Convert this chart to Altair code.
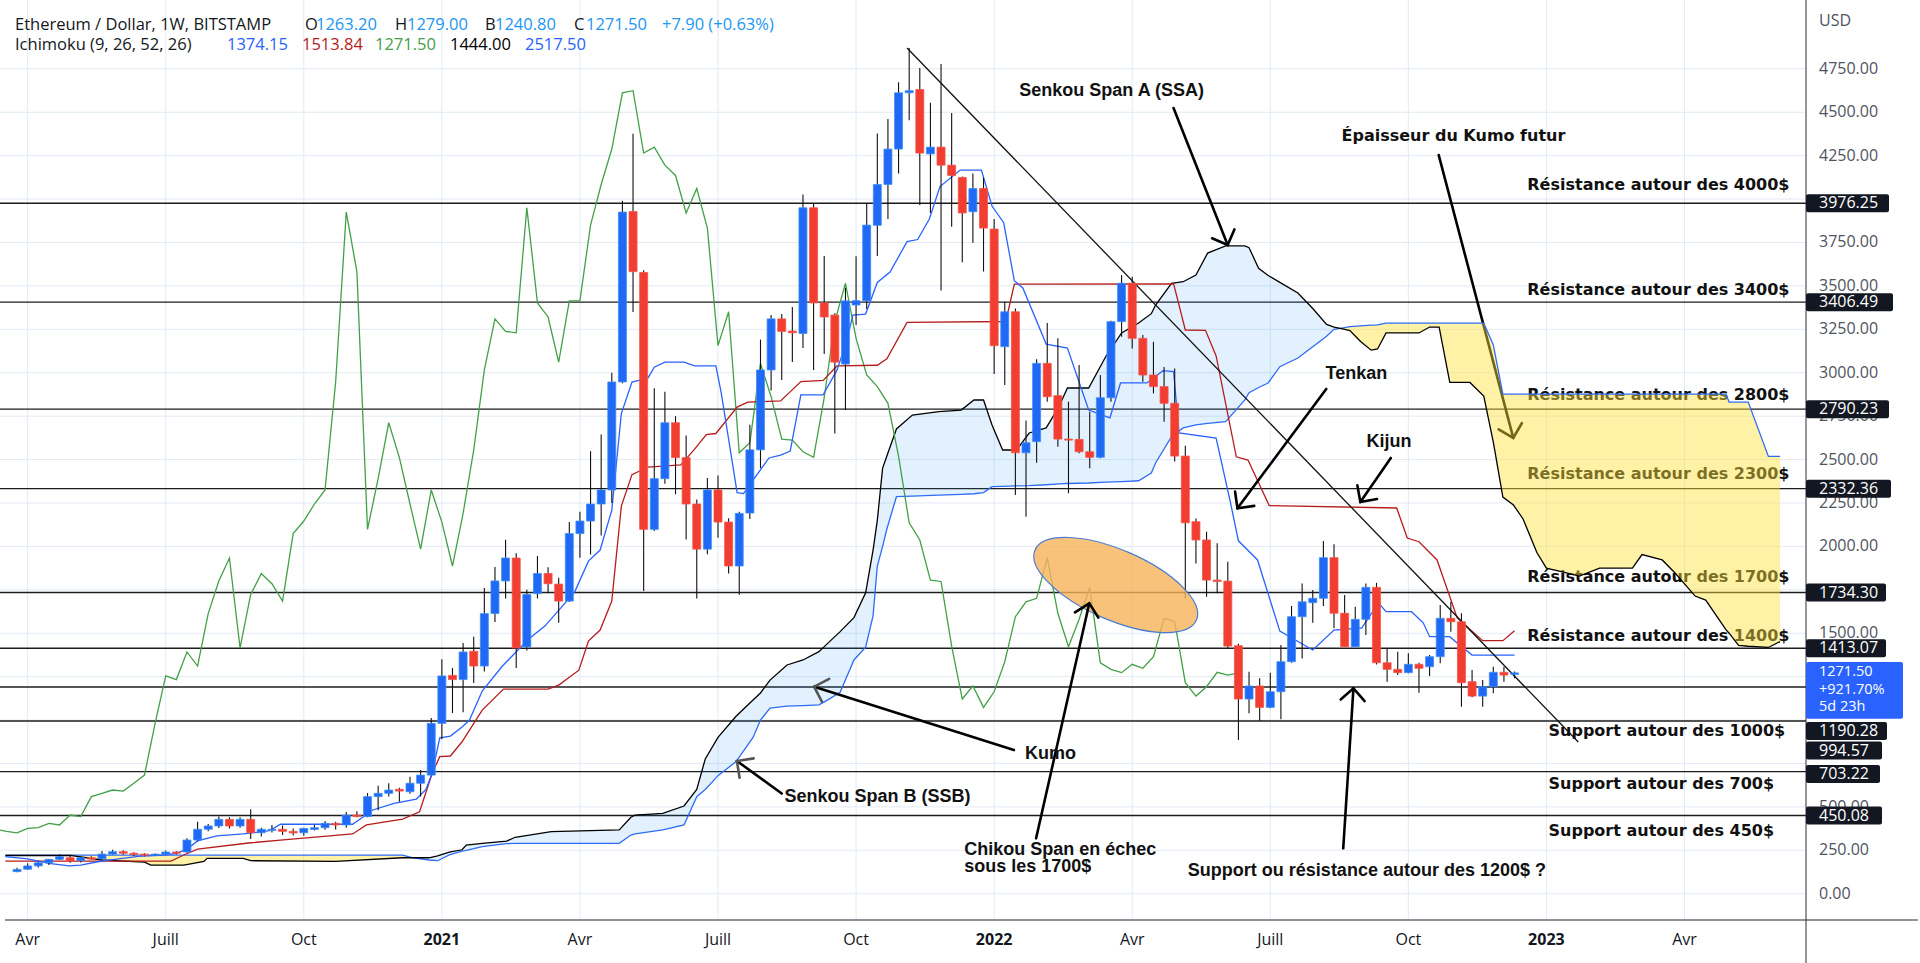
import altair as alt
import pandas as pd

# ---------------- data (weekly ETH/USD candles, first bar = week of 2020-03-30) ----------------
opens = [127, 141, 160, 178, 198, 207, 190, 207, 201, 228,
         242, 233, 228, 222, 227, 240, 240, 309, 371, 390,
         428, 390, 428, 351, 364, 371, 359, 351, 370, 380,
         405, 396, 453, 444, 559, 578, 601, 587, 636, 683,
         981, 1257, 1233, 1396, 1311, 1613, 1801, 1933, 1421, 1728,
         1844, 1783, 1685, 2074, 2146, 2244, 2325, 2947, 3928, 3577,
         2098, 2390, 2712, 2511, 2244, 1984, 2325, 2140, 1887, 2192,
         2556, 3016, 3310, 3240, 3226, 3950, 3402, 3332, 3050, 3390,
         3414, 3849, 4084, 4288, 4612, 4631, 4260, 4299, 4195, 4124,
         3927, 4061, 3827, 3150, 3351, 2539, 2603, 3054, 2868, 2618,
         2616, 2545, 2513, 2856, 3294, 3515, 3198, 2987, 2920, 2824,
         2520, 2142, 2037, 1806, 1800, 1428, 1121, 1196, 1073, 1163,
         1336, 1595, 1676, 1701, 1935, 1615, 1422, 1580, 1764, 1330,
         1292, 1273, 1321, 1307, 1365, 1586, 1566, 1221, 1138, 1192,
         1275, 1263.2]
highs = [150, 175, 186, 200, 227, 217, 215, 216, 246, 253,
         250, 239, 233, 232, 249, 246, 319, 415, 402, 444,
         440, 440, 486, 380, 395, 393, 375, 380, 395, 418,
         415, 470, 475, 580, 622, 636, 610, 674, 712, 1012,
         1350, 1300, 1444, 1480, 1760, 1882, 2038, 1960, 1750, 1945,
         1880, 1820, 2140, 2200, 2548, 2644, 3000, 3990, 4376, 3590,
         2911, 2890, 2750, 2638, 2270, 2394, 2408, 2162, 2200, 2700,
         3191, 3332, 3338, 3378, 4026, 3973, 3672, 3343, 3489, 3670,
         3978, 4378, 4461, 4672, 4870, 4755, 4554, 4778, 4496, 4130,
         4147, 4124, 3885, 3409, 3370, 2725, 3077, 3286, 3198, 2833,
         3044, 2776, 2987, 3300, 3563, 3553, 3217, 3178, 3033, 3025,
         2580, 2160, 2085, 2018, 1912, 1440, 1278, 1240, 1273, 1432,
         1657, 1787, 1749, 2031, 2012, 1720, 1653, 1787, 1790, 1413,
         1394, 1384, 1330, 1374, 1662, 1681, 1615, 1288, 1230, 1307,
         1307, 1279]
lows = [124, 138, 151, 165, 193, 178, 180, 196, 195, 225,
        225, 217, 215, 218, 226, 226, 236, 300, 360, 378,
        375, 380, 315, 330, 352, 338, 335, 334, 364, 368,
        370, 380, 440, 440, 480, 560, 530, 575, 560, 680,
        890, 1040, 1045, 1213, 1280, 1565, 1700, 1300, 1400, 1700,
        1730, 1560, 1680, 1935, 1953, 2062, 2250, 2940, 3350, 1743,
        2089, 2360, 2300, 2039, 1700, 1955, 2050, 1844, 1722, 2158,
        2451, 2897, 2958, 3062, 3143, 3016, 3108, 2650, 2785, 3275,
        3367, 3672, 3885, 4147, 4454, 3966, 3920, 3473, 3840, 3636,
        3748, 3583, 2993, 2929, 2296, 2171, 2482, 2833, 2574, 2306,
        2536, 2450, 2507, 2833, 3207, 3140, 2948, 2881, 2718, 2489,
        1701, 1902, 1710, 1730, 1413, 885, 1039, 996, 1068, 1004,
        1330, 1355, 1560, 1657, 1528, 1420, 1420, 1490, 1320, 1221,
        1259, 1269, 1157, 1253, 1327, 1509, 1077, 1131, 1077, 1154,
        1221, 1240.8]
closes = [140, 160, 178, 198, 213, 188, 207, 199, 228, 242,
          233, 226, 222, 228, 240, 233, 309, 371, 390, 428,
          390, 428, 351, 371, 371, 359, 350, 376, 380, 405,
          396, 453, 444, 559, 578, 597, 591, 636, 683, 981,
          1254, 1233, 1392, 1311, 1613, 1801, 1933, 1415, 1723, 1844,
          1785, 1685, 2074, 2146, 2244, 2325, 2947, 3925, 3582, 2098,
          2390, 2712, 2511, 2244, 1984, 2325, 2140, 1887, 2190, 2556,
          3016, 3310, 3238, 3230, 3950, 3402, 3321, 3061, 3414, 3415,
          3850, 4084, 4288, 4612, 4624, 4265, 4299, 4195, 4136, 3920,
          4061, 3833, 3156, 3351, 2539, 2597, 3054, 2862, 2618, 2612,
          2545, 2513, 2856, 3294, 3515, 3198, 2987, 2920, 2824, 2520,
          2136, 2037, 1806, 1798, 1426, 1121, 1196, 1073, 1163, 1336,
          1595, 1681, 1701, 1935, 1615, 1422, 1580, 1764, 1330, 1292,
          1273, 1321, 1298, 1365, 1586, 1566, 1215, 1138, 1192, 1275,
          1259, 1271.5]

# Ichimoku lines: (week index, price)
tenkan = [(-1.1, 213), (1, 200), (3, 175), (4.9, 160), (6, 165), (7.6, 184), (9, 196), (11.4, 215),
          (13.9, 223), (15, 232), (16, 257), (17, 304), (18.8, 333), (21.3, 344), (23.8, 363),
          (24.8, 400), (31.6, 400), (33.5, 482), (35.5, 520), (37.6, 545), (38.5, 600), (39.1, 695),
          (39.8, 897), (40.8, 908), (41.9, 960), (42.6, 1000), (43.8, 1167), (45.7, 1311), (48.2, 1468),
          (49.7, 1541), (52.5, 1737), (53.8, 1915), (54.9, 1979), (56, 2209), (56.9, 2765), (57.9, 2946),
          (59.4, 2969), (60, 3032), (61, 3061), (62.8, 3061), (63.8, 3040), (65.8, 3040), (66.3, 2886),
          (67.8, 2309), (68.4, 2304), (69.3, 2382), (70.8, 2509), (71.9, 2526), (72.8, 2549), (73.8, 2873),
          (75.9, 2873), (77.2, 3015), (78.1, 3179), (78.7, 3332), (79.9, 3338), (81, 3520), (82.2, 3580),
          (83.8, 3755), (84.8, 3767), (85.9, 3885), (86.9, 4072), (88.8, 4167), (90.8, 4167), (91.8, 3960),
          (92.9, 3864), (93.9, 3530), (94.7, 3488), (96.9, 3165), (98.9, 3142), (100.9, 2785), (102.9, 2740),
          (103.9, 2941), (106.4, 2941), (107.9, 3012), (108.9, 3006), (109.4, 2653), (112.9, 2624),
          (114.2, 2267), (115, 2032), (116.8, 1922), (118.9, 1512), (122, 1403), (124, 1518), (126.6, 1530),
          (128.2, 1674), (128.9, 1624), (131.3, 1624), (132.4, 1560), (133, 1480), (134.9, 1480),
          (135.6, 1444), (137, 1374), (141, 1374)]
kijun = [(-1.1, 188), (14.5, 188), (15.7, 223), (17, 257), (21.8, 292), (24.8, 309), (31.6, 344),
         (32.9, 396), (36.3, 430), (37.9, 472), (39.1, 695), (39.8, 789), (40.8, 793), (41.9, 875),
         (43.8, 1057), (45.8, 1178), (50, 1178), (51, 1201), (52.9, 1287), (53.8, 1455), (54.9, 1518),
         (56, 1685), (56.9, 2232), (57.9, 2413), (59.4, 2457), (62.5, 2469), (63.8, 2560), (64.9, 2644),
         (65.8, 2650), (67.8, 2802), (68.8, 2831), (71.9, 2838), (73.8, 2949), (75.9, 2956), (77.2, 3039),
         (81, 3043), (81.9, 3080), (83.8, 3290), (93.1, 3295), (93.9, 3510), (108.9, 3512), (110, 3246),
         (111.9, 3244), (112.9, 3097), (114.8, 2516), (115.9, 2497), (117.9, 2235), (129.9, 2221),
         (130.9, 2048), (132, 2027), (133.7, 1922), (135.6, 1588), (138, 1457), (139.9, 1457), (141, 1514)]
# (week index, Senkou Span A, Senkou Span B)
kumo = [(-1.1, 220, 222), (5, 221, 222), (8, 194, 222), (12, 182, 222), (12.6, 165, 222), (15.7, 165, 222),
        (17.6, 186, 222), (17.9, 204, 222), (21.3, 204, 222), (22, 190, 222), (30, 186, 222),
        (36.3, 207, 222), (37.3, 207, 207), (38.8, 207, 194), (39.6, 218, 190), (40.7, 240, 223),
        (41.9, 253, 245), (42.3, 280, 250), (43.8, 290, 271), (46.1, 303, 288), (46.9, 325, 290),
        (50.3, 357, 290), (56.7, 367, 290), (57.8, 440, 338), (58.2, 453, 345), (60.8, 463, 367),
        (62.8, 505, 396), (64, 600, 559), (64.8, 776, 600), (66, 900, 680), (67.7, 1022, 761),
        (69.3, 1115, 900), (70, 1156, 1000), (70.9, 1230, 1069), (72.5, 1317, 1080), (74, 1346, 1083),
        (75.5, 1394, 1087), (76.3, 1440, 1115), (77.5, 1509, 1160), (78.8, 1590, 1346), (79.9, 1733, 1420),
        (80.6, 1979, 1600), (81, 2150, 1887), (81.5, 2451, 2000), (81.9, 2520, 2100), (82.8, 2676, 2286),
        (84.3, 2756, 2290), (86.8, 2776, 2295), (88.9, 2785, 2300), (90.1, 2843, 2303), (91, 2843, 2310),
        (91.8, 2699, 2344), (92.8, 2555, 2345), (94.1, 2555, 2348), (95.3, 2653, 2350), (96.9, 2682, 2355),
        (98.1, 2804, 2360), (98.9, 2912, 2362), (100.9, 2912, 2365), (102.5, 3092, 2370), (104, 3229, 2373),
        (105.6, 3286, 2378), (106.8, 3340, 2422), (107.2, 3390, 2480), (108.7, 3515, 2632),
        (109.8, 3524, 2682), (111, 3563, 2700), (112.1, 3689, 2708), (113.8, 3730, 2718), (115.6, 3730, 2843),
        (116, 3720, 2885), (116.9, 3601, 2915), (117.8, 3560, 2941), (118.9, 3520, 3035), (120.6, 3459, 3085),
        (122, 3370, 3150), (123.3, 3278, 3210), (124, 3262, 3250), (124.6, 3255, 3255), (125.5, 3243, 3265),
        (126.5, 3180, 3270), (127.5, 3130, 3274), (128.1, 3137, 3276), (128.9, 3229, 3286), (132, 3229, 3286),
        (133, 3263, 3286), (133.9, 3263, 3286), (134.9, 2944, 3286), (136.8, 2944, 3286), (138.1, 2866, 3286),
        (139, 2600, 3160), (139.9, 2284, 2877), (140.9, 2238, 2877), (141.8, 2158, 2877), (143.1, 1965, 2877),
        (144, 1875, 2877), (145.6, 1852, 2877), (147.1, 1829, 2877), (149, 1875, 2877), (152.1, 1875, 2877),
        (153, 1953, 2877), (154.9, 1922, 2877), (156.2, 1841, 2877), (158, 1714, 2877), (159, 1691, 2877),
        (160.9, 1521, 2877), (161.2, 1500, 2831), (162.1, 1430, 2831), (163, 1425, 2831), (164.9, 1418, 2518),
        (166, 1452, 2518)]
kumo_crossings = [37.3, 124.6]
chikou_shift = 26

levels = [3976.25, 3406.49, 2790.23, 2332.36, 1734.30, 1413.07, 1190.28, 994.57, 703.22, 450.08]
level_tags = ["3976.25", "3406.49", "2790.23", "2332.36", "1734.30", "1413.07", "1190.28", "994.57", "703.22", "450.08"]
level_tag_at = [3976.25, 3406.49, 2790.23, 2332.36, 1734.30, 1413.07, 937, 824.6, 689, 450.08]
level_tag_right = [1889, 1893, 1889, 1891, 1886, 1886, 1887, 1882, 1880, 1882]
trend = [(83.8, 4870, 147.0, 873.5)]

tick_weeks = [1, 14, 27, 40, 53, 66, 79, 92, 105, 118, 131, 144, 157]
tick_labels = ["Avr", "Juill", "Oct", "2021", "Avr", "Juill", "Oct", "2022", "Avr", "Juill", "Oct", "2023", "Avr"]
year_labels = ["2021", "2022", "2023"]
price_ticks = list(range(0, 5000, 250))
# price scale labels that stay visible (the others sit fully under the price tags)
price_labels = [0, 250, 500, 1500, 2000, 2250, 2500, 2750, 3000, 3250, 3500, 3750, 4250, 4500, 4750]

under_notes = [("Épaisseur du Kumo futur", 124.71, 4363),
               ("Résistance autour des 4000$", 142.2, 4082),
               ("Résistance autour des 3400$", 142.2, 3478.6),
               ("Résistance autour des 2800$", 142.2, 2871.7),
               ("Résistance autour des 2300$", 142.2, 2416.8),
               ("Résistance autour des 1700$", 142.2, 1823.7),
               ("Résistance autour des 1400$", 142.2, 1484),
               ("Support autour des 1000$", 144.2, 936.9),
               ("Support autour des 700$", 144.2, 631.7),
               ("Support autour des 450$", 144.2, 361)]
notes = [("Senkou Span A (SSA)", 94.37, 4622),
         ("Tenkan", 123.2, 2995.5),
         ("Kijun", 127.05, 2601),
         ("Kumo", 94.9, 804),
         ("Senkou Span B (SSB)", 72.25, 556.8),
         ("Chikou Span en échec", 89.18, 251.6),
         ("sous les 1700$", 89.18, 155.5),
         ("Support ou résistance autour des 1200$ ?", 110.24, 133)]
# arrows: tail week, tail price, tip week, tip price, head angle, head colour, drawn under kumo
arrows = [(108.89, 4524.4, 113.99, 3735.5, 68.3, "#000000", False),
          (133.86, 4253, 140.88, 2624.7, 75.2, "#000000", True),
          (123.27, 2906.3, 114.91, 2219.3, 126.8, "#000000", False),
          (129.35, 2509, 126.48, 2255.5, 124.8, "#000000", False),
          (93.86, 827.5, 75.05, 1192, 197.5, "#555555", False),
          (72.0, 577, 67.78, 764, 216, "#555555", False),
          (95.95, 319, 100.96, 1672.2, 282.8, "#000000", False),
          (124.87, 261.4, 125.83, 1182.8, 273.7, "#000000", False)]
ellipse = [(103.45, 1777.6)]

legend_rows = [(15, 25, "Ethereum / Dollar, 1W, BITSTAMP", "#131722"),
               (305, 25, "O", "#131722"), (316, 25, "1263.20", "#2196f3"),
               (395, 25, "H", "#131722"), (407, 25, "1279.00", "#2196f3"),
               (485, 25, "B", "#131722"), (495, 25, "1240.80", "#2196f3"),
               (574, 25, "C", "#131722"), (586, 25, "1271.50", "#2196f3"),
               (662, 25, "+7.90 (+0.63%)", "#2196f3"),
               (15, 45, "Ichimoku (9, 26, 52, 26)", "#131722"),
               (227, 45, "1374.15", "#2962ff"), (302, 45, "1513.84", "#b71c1c"),
               (375, 45, "1271.50", "#43a047"), (450, 45, "1444.00", "#000000"),
               (525, 45, "2517.50", "#2962ff")]
last_tag = ["1271.50", "+921.70%", "5d 23h"]
last_tag_at = [1275, 1175, 1075]

# ---------------- styling / layout ----------------
W, H = 1806, 920
X_MIN, X_MAX = -1.133, 167.97
Y_MIN, Y_MAX = -151.4, 5146.3
BLUE, BLUE_EDGE = "#2069f5", "#3d8ff7"
RED, RED_EDGE = "#f23d31", "#f4544a"
GRID = "#e2eaf5"
TAG_HALF = 9 / 0.17366  # half a price tag (9 px) in price units

xs = alt.Scale(domain=[X_MIN, X_MAX], nice=False, zero=False)
ys = alt.Scale(domain=[Y_MIN, Y_MAX], nice=False, zero=False)


def qx(f):
    return alt.X(f, type="quantitative", scale=xs, axis=None, title=None)


def qy(f):
    return alt.Y(f, type="quantitative", scale=ys, axis=None, title=None)


def px(f):
    return alt.X(f, type="quantitative", scale=None, axis=None, title=None)


def py(f):
    return alt.Y(f, type="quantitative", scale=None, axis=None, title=None)


# ---------------- tables ----------------
n = len(closes)
cdf = pd.DataFrame({"w": list(range(n)), "o": opens, "h": highs, "l": lows, "c": closes})
cdf["dir"] = ["up" if c >= o else "down" for o, c in zip(opens, closes)]
chik = pd.DataFrame({"w": [i - chikou_shift for i in range(n)], "p": closes})
tdf = pd.DataFrame(tenkan, columns=["w", "p"])
kdf = pd.DataFrame(kijun, columns=["w", "p"])
kumo_df = pd.DataFrame(kumo, columns=["w", "ssa", "ssb"])
bounds = [(-1e9, kumo_crossings[0]), (kumo_crossings[0], kumo_crossings[1]), (kumo_crossings[1], 1e9)]
seg_rows = []
for w, a, b in kumo:
    for s, (lo, hi) in enumerate(bounds):
        if lo <= w <= hi:
            seg_rows.append({"w": w, "ssa": a, "ssb": b, "seg": s})
seg_df = pd.DataFrame(seg_rows)
arr_df = pd.DataFrame(arrows, columns=["w1", "p1", "w2", "p2", "ang", "col", "under"])
trend_df = pd.DataFrame(trend, columns=["w1", "p1", "w2", "p2"])
tags = pd.DataFrame({"label": level_tags, "at": level_tag_at, "x2": level_tag_right})
tags["x1"] = 1806
tags["tx"] = 1819
tags["top"] = tags["at"] + TAG_HALF
tags["bot"] = tags["at"] - TAG_HALF
last_df = pd.DataFrame({"label": last_tag, "at": last_tag_at})
last_df["tx"] = 1819
last_box = pd.DataFrame({"x1": [1806], "x2": [1903], "top": [1334.6], "bot": [1008.0]})
leg_df = pd.DataFrame(legend_rows, columns=["px", "py", "t", "col"])
xtick_df = pd.DataFrame({"w": tick_weeks, "t": tick_labels})
xtick_df["year"] = xtick_df["t"].isin(year_labels)
ygrid_df = pd.DataFrame({"p": price_ticks})
ylab_df = pd.DataFrame({"p": price_labels, "t": [f"{v:.2f}" for v in price_labels]})

# ---------------- layers ----------------
grid_v = alt.Chart(xtick_df).mark_rule(color=GRID, strokeWidth=1).encode(x=qx("w"))
grid_h = alt.Chart(ygrid_df).mark_rule(color=GRID, strokeWidth=1).encode(y=qy("p"))
xlab_n = alt.Chart(xtick_df[~xtick_df["year"]]).mark_text(
    align="center", baseline="middle", font="Open Sans", fontSize=16, color="#131722").encode(
    x=qx("w"), y=alt.value(940), text="t:N")
xlab_b = alt.Chart(xtick_df[xtick_df["year"]]).mark_text(
    align="center", baseline="middle", font="Open Sans", fontSize=16, fontWeight="bold", color="#131722").encode(
    x=qx("w"), y=alt.value(940), text="t:N")
ylab = alt.Chart(ylab_df).mark_text(
    align="left", baseline="middle", dx=13, font="Open Sans", fontSize=16, color="#50535e").encode(
    x=alt.value(W), y=qy("p"), text="t:N")
bottom = alt.Chart(pd.DataFrame({"a": [X_MIN], "b": [X_MAX + 11], "c": [Y_MIN]})).mark_rule(
    color="#8f929b", strokeWidth=2).encode(x=qx("a"), x2="b:Q", y=qy("c"))
vline = alt.Chart(pd.DataFrame({"a": [0]})).mark_rule(color="#2a2e39", strokeWidth=1).encode(
    x=alt.value(W), y=alt.value(0), y2=alt.value(963))

lv = alt.Chart(pd.DataFrame({"p": levels})).mark_rule(color="#1c1c1c", strokeWidth=1.4).encode(y=qy("p"))

under_txt = alt.Chart(pd.DataFrame(under_notes, columns=["t", "w", "p"])).mark_text(
    align="left", baseline="middle", font="DejaVu Sans", fontSize=16, fontWeight="bold", color="#111111"
).encode(x=qx("w"), y=qy("p"), text="t:N")

arr_under = arr_df[arr_df["under"]]
arr_over = arr_df[~arr_df["under"]]
chev = "M -1 -1 L 0 0 L -1 1"


def arrow_layers(d):
    line = alt.Chart(d).mark_rule(color="#000000", strokeWidth=2.6, strokeCap="round").encode(
        x=qx("w1"), x2="w2:Q", y=qy("p1"), y2="p2:Q")
    head = alt.Chart(d).mark_point(shape=chev, size=576, filled=False, strokeWidth=2.6, opacity=1,
                                   strokeCap="round").encode(
        x=qx("w2"), y=qy("p2"), angle=alt.Angle("ang:Q", scale=None), stroke=alt.Stroke("col:N", scale=None))
    return [line, head]


yellow = alt.Chart(seg_df[seg_df["seg"] != 1]).mark_area(color="#ffe23a", opacity=0.45).encode(
    x=qx("w"), y=qy("ssa"), y2="ssb:Q", detail="seg:N")
bluek = alt.Chart(seg_df[seg_df["seg"] == 1]).mark_area(color="#2196f3", opacity=0.13).encode(
    x=qx("w"), y=qy("ssa"), y2="ssb:Q")
ssb_line = alt.Chart(kumo_df).mark_line(color="#2f6cf6", strokeWidth=1.3).encode(x=qx("w"), y=qy("ssb"))
ssa_line = alt.Chart(kumo_df).mark_line(color="#000000", strokeWidth=1.3).encode(x=qx("w"), y=qy("ssa"))
chik_line = alt.Chart(chik).mark_line(color="#43a047", strokeWidth=1.3, clip=True).encode(x=qx("w"), y=qy("p"))
kij_line = alt.Chart(kdf).mark_line(color="#b71c1c", strokeWidth=1.3).encode(x=qx("w"), y=qy("p"))
ten_line = alt.Chart(tdf).mark_line(color="#2962ff", strokeWidth=1.3).encode(x=qx("w"), y=qy("p"))
trend_line = alt.Chart(trend_df).mark_rule(color="#111111", strokeWidth=1.3).encode(
    x=qx("w1"), x2="w2:Q", y=qy("p1"), y2="p2:Q")

wick = alt.Chart(cdf).mark_rule(color="#111111", strokeWidth=1.1).encode(x=qx("w"), y=qy("l"), y2="h:Q")
body = alt.Chart(cdf).mark_bar(size=8, strokeWidth=0.8).encode(
    x=qx("w"), y=qy("o"), y2="c:Q",
    color=alt.Color("dir:N", scale=alt.Scale(domain=["up", "down"], range=[BLUE, RED]), legend=None),
    stroke=alt.Stroke("dir:N", scale=alt.Scale(domain=["up", "down"], range=[BLUE_EDGE, RED_EDGE]), legend=None))

ell_path = ("M 1 0 C 1 0.22 0.5523 0.398 0 0.398 C -0.5523 0.398 -1 0.22 -1 0 "
            "C -1 -0.22 -0.5523 -0.398 0 -0.398 C 0.5523 -0.398 1 -0.22 1 0 Z")
ell = alt.Chart(pd.DataFrame(ellipse, columns=["w", "p"])).mark_point(
    shape=ell_path, size=30976, angle=23.5, filled=True, fill="#f8b35a", fillOpacity=0.8,
    stroke="#4a7bd0", strokeWidth=1.2, opacity=1).encode(x=qx("w"), y=qy("p"))

over_txt = alt.Chart(pd.DataFrame(notes, columns=["t", "w", "p"])).mark_text(
    align="left", baseline="middle", font="Liberation Sans", fontSize=18, fontWeight="bold", color="#111111"
).encode(x=qx("w"), y=qy("p"), text="t:N")

legend = alt.Chart(leg_df).mark_text(align="left", baseline="middle", font="Open Sans", fontSize=16.5).encode(
    x=px("px"), y=py("py"), text="t:N", color=alt.Color("col:N", scale=None, legend=None))

tag_box = alt.Chart(tags).mark_rect(color="#131722", cornerRadius=2).encode(
    x=px("x1"), x2="x2:Q", y=qy("top"), y2="bot:Q")
tag_txt = alt.Chart(tags).mark_text(color="white", align="left", baseline="middle", font="Open Sans",
                                    fontSize=16).encode(x=px("tx"), y=qy("at"), text="label:N")
last_rect = alt.Chart(last_box).mark_rect(color="#2962ff", cornerRadius=2).encode(
    x=px("x1"), x2="x2:Q", y=qy("top"), y2="bot:Q")
last_txt = alt.Chart(last_df).mark_text(color="white", align="left", baseline="middle", font="Open Sans",
                                        fontSize=14.5).encode(x=px("tx"), y=qy("at"), text="label:N")
usd = alt.Chart(pd.DataFrame({"t": ["USD"]})).mark_text(
    color="#50535e", align="left", baseline="middle", font="Open Sans", fontSize=16).encode(
    x=alt.value(1819), y=alt.value(21), text="t:N")

layers = ([grid_v, grid_h, lv, under_txt] + arrow_layers(arr_under) +
          [yellow, bluek, ssb_line, ssa_line, chik_line, kij_line, ten_line, trend_line, wick, body, ell] +
          arrow_layers(arr_over) +
          [over_txt, legend, xlab_n, xlab_b, ylab, bottom, vline,
           tag_box, tag_txt, last_rect, last_txt, usd])

chart = alt.layer(*layers).properties(
    width=W, height=H, background="white",
    autosize=alt.AutoSizeParams(type="none"),
    padding={"left": 0, "top": 0, "right": 114, "bottom": 43},
).configure_view(stroke=None)

chart.save("out.html", embed_options={"renderer": "svg", "actions": False})
